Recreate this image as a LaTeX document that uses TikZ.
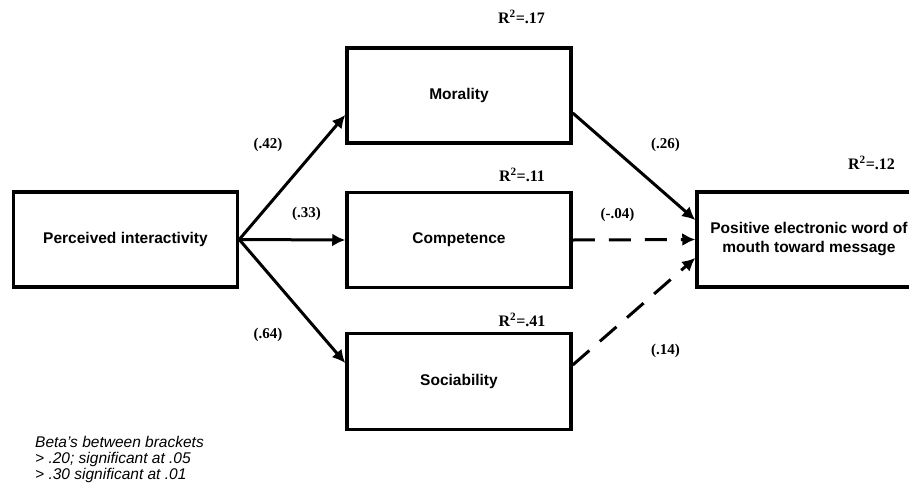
\documentclass[tikz,border=0pt]{standalone}
\usepackage{fontspec}
\setmainfont{Liberation Serif}
\setsansfont{Liberation Sans}
\usetikzlibrary{arrows.meta}
\begin{document}
\begin{tikzpicture}[x=1pt,y=-1pt,
    box/.style={draw,line width=3.5pt,minimum width=224pt,minimum height=95pt,align=center,
        font=\sffamily\bfseries\fontsize{15.5}{19}\selectfont},
    beta/.style={font=\bfseries\fontsize{15}{18}\selectfont},
    rsq/.style={font=\bfseries\fontsize{16}{18}\selectfont},
    link/.style={line width=3pt,-{Latex[length=13pt,width=13pt]}},
    weak/.style={link,dash pattern=on 22pt off 14pt}]
    \useasboundingbox (0,0) rectangle (909,490);
    %draw boxes
    \node[box] (perceived) at (125.5,239.5) {Perceived interactivity};
    \node[box] (morality) at (459,95.5) {Morality};
    \node[box] (competence) at (459,240) {Competence};
    \node[box,minimum height=96pt] (sociability) at (459,381.5) {Sociability};
    \node[box] (ewom) at (809,239.5) {Positive electronic word of\\mouth toward message};
    %draw R square values
    \node[rsq] (rmor) at (521.5,17) {R\textsuperscript{2}=.17};
    \node[rsq] (rcom) at (522,175) {R\textsuperscript{2}=.11};
    \node[rsq] (rsoc) at (522,320) {R\textsuperscript{2}=.41};
    \node[rsq] (rewom) at (871.5,163) {R\textsuperscript{2}=.12};
    %draw paths
    \draw[link] (perceived.east) -- ([yshift=-19.5pt]morality.west);
    \draw[link] (perceived.east) -- (competence.west);
    \draw[link] (perceived.east) -- ([yshift=18.5pt]sociability.west);
    \draw[link] ([yshift=-17.5pt]morality.east) -- ([yshift=19.5pt]ewom.west);
    \draw[weak] (competence.east) -- (ewom.west);
    \draw[weak] ([yshift=16.5pt]sociability.east) -- ([yshift=-18.5pt]ewom.west);
    %draw betas
    \node[beta] (bmor) at (268,145) {(.42)};
    \node[beta] (bcom) at (306.5,214) {(.33)};
    \node[beta] (bsoc) at (268,335) {(.64)};
    \node[beta] (bmorw) at (665.5,145) {(.26)};
    \node[beta] (bcomw) at (617.5,215) {(-.04)};
    \node[beta] (bsocw) at (665.5,351) {(.14)};
    \node[anchor=north west,inner sep=0pt,align=left,font=\sffamily\itshape\fontsize{15.5}{16}\selectfont] (note) at (35,436)
        {Beta’s between brackets\\> .20; significant at .05\\> .30 significant at .01};
\end{tikzpicture}
\end{document}
